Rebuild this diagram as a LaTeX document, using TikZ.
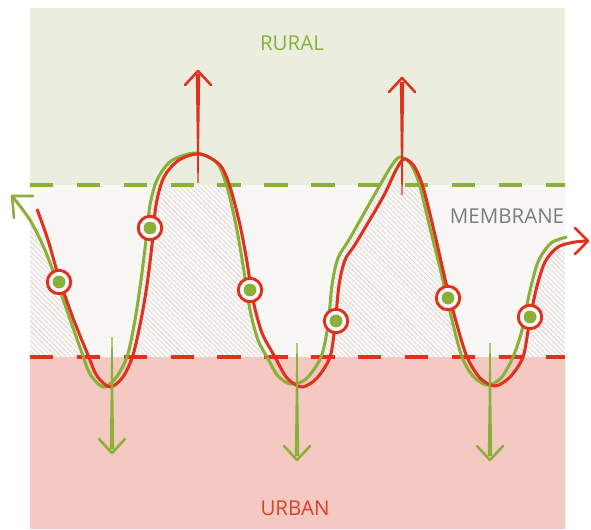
\documentclass[tikz,border=0pt]{standalone}
\usepackage{fontspec}
\setmainfont{Open Sans}
\usetikzlibrary{patterns.meta}

\definecolor{leaf}{HTML}{8AB03A}
\definecolor{brick}{HTML}{E2301E}
\definecolor{ruralbg}{HTML}{EBEDDF}
\definecolor{membg}{HTML}{F8F7F5}
\definecolor{urbanbg}{HTML}{F3C9C1}
\definecolor{hatchc}{HTML}{DDD3CF}
\definecolor{greytext}{HTML}{7C7C7E}
\definecolor{urbantext}{HTML}{D8412B}

\begin{document}
\begin{tikzpicture}[x=0.03cm,y=-0.03cm]
\useasboundingbox (0,0) rectangle (591,529);

\tikzstyle{ring} = [draw=brick, fill=white, shape=circle, minimum size=20pt, inner sep=0pt, line width=2.5pt]
\tikzstyle{dot} = [fill=leaf, shape=circle, minimum size=11pt, inner sep=0pt]
\tikzstyle{zone} = [font=\fontsize{17.5}{20}\selectfont, inner sep=0pt]
\tikzstyle{wave} = [line width=2.6pt, line join=round]
\tikzstyle{barb} = [line width=2.2pt, line join=round, line cap=round]

% Zones
\fill[ruralbg] (30,8) rectangle (565,185);
\fill[membg] (30,185) rectangle (565,357);
\fill[urbanbg] (30,357) rectangle (565,529);

\begin{scope}
\clip (30,185) rectangle (565,357);
\fill[pattern={Lines[angle=-45,distance=3pt,line width=0.5pt]}, pattern color=hatchc]
  plot[smooth] coordinates {(12,196) (30,220) (45,250) (58,285) (71,322) (82,353) (90,374) (103,387) (115,379)
  (127,357) (135,320) (141,280) (146,240) (150,205) (157,180) (171,161) (196,153) (217,163) (227,187) (236,225)
  (243,265) (250,310) (258,340) (267,357) (278,376) (291,384) (306,379) (321,357) (328,325) (332,285) (338,258)
  (350,238) (380,185) (392,165) (400,157) (410,163) (419,183) (430,228) (441,272) (452,320) (462,357) (473,376)
  (487,385) (501,378) (513,357) (522,330) (529,295) (538,262) (551,243) (567,237)}
  -- (567,400) -- (30,400) -- (30,196) -- cycle;
\end{scope}

\draw[leaf, line width=4pt, dash pattern=on 20pt off 20pt] (30,185) -- (565,185);
\draw[brick, line width=4pt, dash pattern=on 20pt off 20pt] (30,357) -- (565,357);

% Curves
\draw[wave, leaf] plot[smooth] coordinates {(12,196) (30,220) (45,250) (58,285) (71,322) (82,353) (90,374) (103,387) (115,379)
  (127,357) (135,320) (141,280) (146,240) (150,205) (157,180) (171,161) (196,153) (217,163) (227,187) (236,225)
  (243,265) (250,310) (258,340) (267,357) (278,376) (291,384) (306,379) (321,357) (328,325) (332,285) (338,258)
  (350,238) (380,185) (392,165) (400,157) (410,163) (419,183) (430,228) (441,272) (452,320) (462,357) (473,376)
  (487,385) (501,378) (513,357) (522,330) (529,295) (538,262) (551,243) (567,237)};
\draw[barb, leaf] (33,196) -- (12,196) -- (14,218);

\draw[wave, brick] plot[smooth] coordinates {(37,209) (48,240) (59,278) (73,318) (88,355) (97,376) (110,387) (123,377)
  (133,355) (141,320) (147,285) (152,245) (156,205) (164,177) (179,160) (200,154) (220,165) (230,187) (240,225)
  (247,262) (253,300) (262,333) (275,357) (287,378) (302,387) (317,378) (330,357) (335,325) (339,285) (345,260)
  (356,243) (383,197) (396,170) (404,159) (414,166) (423,187) (435,235) (446,283) (457,325) (467,357) (480,378)
  (495,386) (510,377) (523,357) (529,325) (536,290) (545,262) (558,247) (575,242) (588,241)};
\draw[barb, brick] (575,228) -- (588,241) -- (575,254);

% Arrows
\fill[brick] (197.4,183) -- (195.8,74) -- (200.2,74) -- (198.6,183) -- cycle;
\draw[barb, brick] (185,85) -- (198,71) -- (211,85);
\fill[brick] (401.4,195) -- (399.8,82) -- (404.2,82) -- (402.6,195) -- cycle;
\draw[barb, brick] (389,92) -- (402,78) -- (415,92);

\fill[leaf] (111.4,337) -- (109.8,449) -- (114.2,449) -- (112.6,337) -- cycle;
\draw[barb, leaf] (99,439) -- (112,453) -- (125,439);
\fill[leaf] (296.4,343) -- (294.8,456) -- (299.2,456) -- (297.6,343) -- cycle;
\draw[barb, leaf] (284,446) -- (297,460) -- (310,446);
\fill[leaf] (489.4,343) -- (487.8,456) -- (492.2,456) -- (490.6,343) -- cycle;
\draw[barb, leaf] (477,446) -- (490,460) -- (503,446);

% Stations
\node[ring] (c1) at (59,282) {};
\node[ring] (c2) at (150,228) {};
\node[ring] (c3) at (250,290) {};
\node[ring] (c4) at (336,321) {};
\node[ring] (c5) at (448,298) {};
\node[ring] (c6) at (530,317) {};
\node[dot] (d1) at (c1) {};
\node[dot] (d2) at (c2) {};
\node[dot] (d3) at (c3) {};
\node[dot] (d4) at (c4) {};
\node[dot] (d5) at (c5) {};
\node[dot] (d6) at (c6) {};

\node[zone, text=leaf] (rural) at (292,43) {RURAL};
\node[zone, text=greytext] (membrane) at (507,216) {MEMBRANE};
\node[zone, text=urbantext] (urban) at (295,508) {URBAN};

\end{tikzpicture}
\end{document}
